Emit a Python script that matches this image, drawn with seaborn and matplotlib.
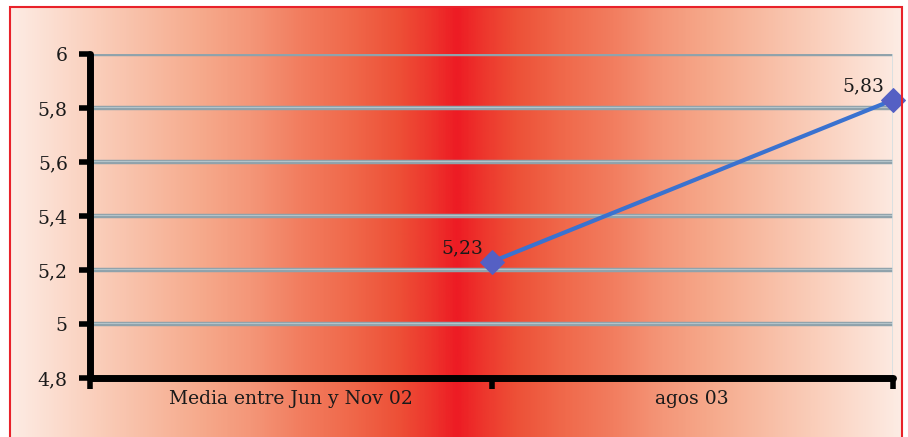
import numpy as np
import pandas as pd
import matplotlib
matplotlib.use("Agg")
import matplotlib.pyplot as plt
import seaborn as sns
from matplotlib.colors import LinearSegmentedColormap
from matplotlib.patches import Rectangle
from matplotlib.ticker import FuncFormatter

categories = ["Media entre Jun y Nov 02", "agos 03"]
values = [5.23, 5.83]
value_labels = ["5,23", "5,83"]
y_ticks = [4.8, 5.0, 5.2, 5.4, 5.6, 5.8, 6.0]

sns.set_theme(style="white")
plt.rcParams['font.family'] = ['DejaVu Serif']

W, H = 908, 437
fig = plt.figure(figsize=(W / 100, H / 100), dpi=100)
fig.patch.set_facecolor("white")

# gradient background
bg = fig.add_axes([10 / W, 0, (902 - 10) / W, (437 - 7) / H])
bg.set_axis_off()
stops = [(0.0, (253, 236, 228)), (0.2, (250, 205, 185)), (0.425, (246, 170, 140)),
         (0.54, (244, 150, 120)), (0.65, (242, 125, 95)), (0.76, (240, 105, 75)),
         (0.87, (237, 80, 55)), (0.94, (237, 55, 45)), (1.0, (237, 28, 36))]
cmap = LinearSegmentedColormap.from_list("g", [(p, tuple(c / 255 for c in rgb)) for p, rgb in stops])
xs = np.linspace(10, 902, 900)
center = 457.0
t = np.where(xs < center, (xs - 10) / (center - 10), (902 - xs) / (902 - center))
grad = t[None, :]
bg.imshow(grad, aspect="auto", cmap=cmap, vmin=0, vmax=1, extent=[0, 1, 0, 1])
bg.set_xlim(0, 1); bg.set_ylim(0, 1)
fig.patches.append(Rectangle((10 / W, -0.01), (902 - 10) / W, (437 - 7) / H + 0.01,
                             transform=fig.transFigure, fill=False,
                             edgecolor="#e8222a", lw=1.5, zorder=10))

ax = fig.add_axes([90 / W, (437 - 378) / H, (893 - 90) / W, (378 - 54) / H])
ax.patch.set_alpha(0)

df = pd.DataFrame({"x": [1, 2], "y": values})
for yv in y_ticks[1:]:
    ax.axhline(yv, color="#8fa2ab", lw=3.2, zorder=1, solid_capstyle="butt")
    ax.axhline(yv + 0.002, color="#b4c4ca", lw=0.8, zorder=1)
ax.axvline(2, color="#d4dfe2", lw=1.2, zorder=1)

sns.lineplot(data=df, x="x", y="y", ax=ax, color="#3a72d0", lw=3,
             marker="D", markersize=12, markerfacecolor="#5560c4",
             markeredgecolor="#5560c4", zorder=5, clip_on=False)

for xv, yv, lab in zip(df["x"], values, value_labels):
    ax.annotate(lab, (xv, yv), xytext=(-6, 3), textcoords="offset points",
                ha="right", va="bottom", fontsize=13.5, color="#1a1a1a")

ax.set_xlim(0, 2)
ax.set_ylim(4.8, 6.0)
ax.set_yticks(y_ticks)
ax.yaxis.set_major_formatter(FuncFormatter(lambda v, p: f"{v:g}".replace(".", ",")))
ax.set_xticks([0, 1, 2])
ax.set_xticklabels([])
ax.set_xticks([0.5, 1.5], minor=True)
ax.set_xticklabels(categories, minor=True)
ax.tick_params(left=True, bottom=True)
ax.tick_params(axis="x", which="minor", bottom=False, length=0, pad=9, labelsize=13.5, labelcolor="#1a1a1a")
ax.tick_params(axis="x", which="major", length=8, width=4, color="black", direction="out")
ax.tick_params(axis="y", length=8, width=4, color="black", pad=8, labelsize=13.5, labelcolor="#1a1a1a")
ax.set_xlabel(""); ax.set_ylabel("")
for s in ["top", "right"]:
    ax.spines[s].set_visible(False)
for s in ["left", "bottom"]:
    ax.spines[s].set_linewidth(5)
    ax.spines[s].set_color("black")
    ax.spines[s].set_capstyle("round")

fig.savefig("out.png", dpi=100)
